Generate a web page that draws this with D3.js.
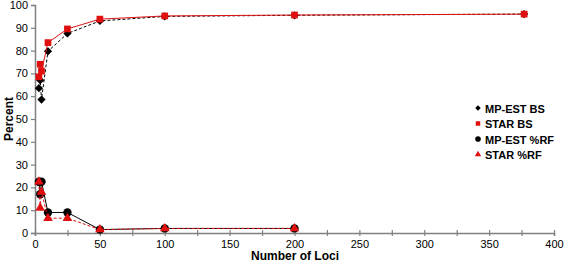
<!DOCTYPE html>
<html>
<head>
<meta charset="utf-8">
<script src="https://cdn.jsdelivr.net/npm/d3@7"></script>
<style>
  body { margin: 0; background: #fff; }
  svg { font-family: "Liberation Sans", Arial, sans-serif; }
</style>
</head>
<body>
<svg id="chart"></svg>
<script>
// loci counts on the x axis
let loci = [3, 4, 5, 10, 25, 50, 100, 200, 377]
let mpestBS = [63.5, 67, 58.5, 79.7, 87.5, 93, 95, 95.5, 96]
let starBS = [68.5, 74, 71, 83.5, 89.5, 93.8, 95.2, 95.6, 96]
let mpestRF = [22.5, 17, 22.5, 9, 9, 1.5, 2, 2]
let starRF = [22.5, 11, 18, 6.5, 6.5, 1.5, 2, 2]
let xTicks = [0, 50, 100, 150, 200, 250, 300, 350, 400]
let yTicks = [0, 10, 20, 30, 40, 50, 60, 70, 80, 90, 100]

let width = 565, height = 263
let margin = {top: 5, right: 11, bottom: 30, left: 35}

let svg = d3.select("#chart").attr("width", width).attr("height", height)

let x = d3.scaleLinear().domain([0, 400]).range([margin.left, width - margin.right])
let y = d3.scaleLinear().domain([0, 100]).range([height - margin.bottom, margin.top])

let axisColor = "#808080"

// y axis
let yAxis = svg.append("g")
  .attr("transform", `translate(${margin.left},0)`)
  .call(d3.axisLeft(y).tickValues(yTicks).tickSize(4).tickPadding(3))
yAxis.select(".domain").attr("stroke", axisColor).attr("stroke-width", 1.5)
yAxis.selectAll(".tick line").attr("stroke", axisColor).attr("stroke-width", 1.2)
yAxis.selectAll("text").attr("font-size", 11).attr("fill", "#000")

// x axis, minor ticks every 25
let xAxis = svg.append("g")
  .attr("transform", `translate(0,${y(0)})`)
  .call(d3.axisBottom(x).tickValues(d3.range(0, 401, 25)).tickSize(3).tickPadding(4)
    .tickFormat(d => xTicks.includes(d) ? d : ""))
xAxis.select(".domain").attr("stroke", axisColor).attr("stroke-width", 1.5)
xAxis.selectAll(".tick line").attr("stroke", axisColor).attr("stroke-width", 1.2).attr("y1", -3)
xAxis.selectAll("text").attr("font-size", 11).attr("fill", "#000")

svg.append("text")
  .attr("transform", `translate(13,${(y(0) + y(100)) / 2}) rotate(-90)`)
  .attr("text-anchor", "middle")
  .attr("font-size", 12).attr("font-weight", "bold")
  .text("Percent")

svg.append("text")
  .attr("x", 295).attr("y", 260)
  .attr("text-anchor", "middle")
  .attr("font-size", 12).attr("font-weight", "bold")
  .text("Number of Loci")

let series = [
  {name: "MP-EST BS", values: mpestBS, color: "#000", dash: "3,2", symbol: d3.symbolSquare, rot: 45, size: 34},
  {name: "STAR BS", values: starBS, color: "#e01010", dash: null, symbol: d3.symbolSquare, rot: 0, size: 45},
  {name: "MP-EST %RF", values: mpestRF, color: "#000", dash: null, symbol: d3.symbolCircle, rot: 0, size: 55},
  {name: "STAR %RF", values: starRF, color: "#e01010", dash: "3,2", symbol: d3.symbolTriangle, rot: 0, size: 40}
]

let line = d3.line().x(d => x(d[0])).y(d => y(d[1]))

series.forEach(s => {
  let pts = s.values.map((v, i) => [loci[i], v])
  svg.append("path")
    .datum(pts)
    .attr("d", line)
    .attr("fill", "none")
    .attr("stroke", s.color)
    .attr("stroke-width", 1)
    .attr("stroke-dasharray", s.dash)
  svg.append("g").selectAll("path")
    .data(pts).enter()
    .append("path")
    .attr("transform", d => `translate(${x(d[0])},${y(d[1])}) rotate(${s.rot})`)
    .attr("d", d3.symbol().type(s.symbol).size(s.size))
    .attr("fill", s.color)
})

// legend
let legend = svg.append("g").attr("transform", "translate(478,108)")
series.forEach((s, i) => {
  let g = legend.append("g").attr("transform", `translate(0,${i * 15.5})`)
  g.append("path")
    .attr("transform", `rotate(${s.rot})`)
    .attr("d", d3.symbol().type(s.symbol).size(s.size * 0.45))
    .attr("fill", s.color)
  g.append("text")
    .attr("x", 7).attr("y", 4.5)
    .attr("font-size", 11).attr("font-weight", "bold")
    .text(s.name)
})
</script>
</body>
</html>
